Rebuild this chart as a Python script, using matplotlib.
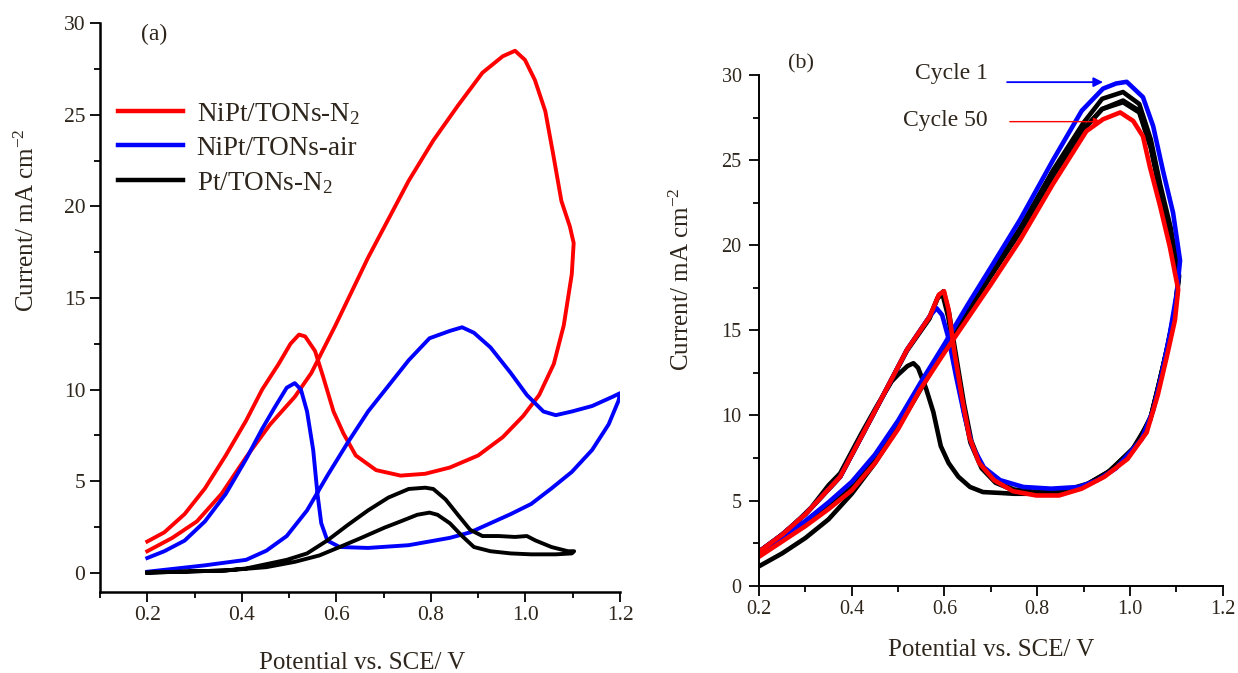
import matplotlib
matplotlib.use("Agg")
import matplotlib.pyplot as plt
from matplotlib.ticker import MultipleLocator, FormatStrFormatter

plt.rcParams['font.family'] = ['Liberation Serif', 'DejaVu Serif']
plt.rcParams['mathtext.fontset'] = 'custom'
plt.rcParams['mathtext.rm'] = 'Liberation Serif'
plt.rcParams['mathtext.it'] = 'Liberation Serif:italic'

TXT = '#2e261c'

# ---------------- Panel (a) data ----------------
a_red_x = [0.2, 0.253, 0.305, 0.357, 0.409, 0.46, 0.512, 0.547, 0.598, 0.667, 0.753, 0.805, 0.857,
           0.909, 0.952, 0.978, 0.999, 1.02, 1.042, 1.059, 1.076, 1.094, 1.102,
           1.098, 1.081, 1.06, 1.029, 0.995, 0.952, 0.9, 0.84, 0.788, 0.736, 0.684, 0.641, 0.615,
           0.594, 0.572, 0.555, 0.534, 0.521, 0.503, 0.478, 0.443, 0.409, 0.366, 0.322, 0.279,
           0.236, 0.2]
a_red_y = [1.17, 1.9, 2.8, 4.3, 6.3, 8.1, 9.6, 10.9, 13.5, 17.2, 21.4, 23.6, 25.5,
           27.3, 28.2, 28.5, 28.0, 26.9, 25.2, 22.8, 20.3, 18.9, 18.0,
           16.3, 13.5, 11.4, 9.7, 8.55, 7.4, 6.4, 5.74, 5.4, 5.3, 5.6, 6.4, 7.6,
           8.8, 10.7, 12.1, 12.9, 13.0, 12.5, 11.4, 10.0, 8.3, 6.4, 4.6, 3.2,
           2.2, 1.7]

a_blue_x = [0.2, 0.322, 0.409, 0.452, 0.495, 0.538, 0.581, 0.624, 0.667, 0.71, 0.753, 0.797, 0.84,
            0.866, 0.891, 0.926, 0.969, 1.003, 1.038, 1.064, 1.098, 1.141, 1.184, 1.2,
            1.197, 1.176, 1.141, 1.098, 1.055, 1.012, 0.969, 0.926, 0.883, 0.84, 0.753, 0.667,
            0.607, 0.581, 0.568, 0.56, 0.551, 0.538, 0.525, 0.512, 0.495, 0.469, 0.443, 0.409,
            0.366, 0.322, 0.279, 0.236, 0.2]
a_blue_y = [0.05, 0.4, 0.7, 1.2, 2.0, 3.4, 5.3, 7.1, 8.8, 10.2, 11.6, 12.8, 13.2,
            13.4, 13.1, 12.3, 10.9, 9.7, 8.8, 8.6, 8.8, 9.1, 9.6, 9.8,
            9.4, 8.1, 6.7, 5.5, 4.6, 3.75, 3.2, 2.7, 2.2, 1.9, 1.5, 1.35,
            1.4, 1.75, 2.7, 4.3, 6.7, 8.8, 10.0, 10.35, 10.1, 9.0, 7.85, 6.2,
            4.3, 2.8, 1.75, 1.17, 0.8]

a_black_x = [0.2, 0.366, 0.409, 0.495, 0.538, 0.581, 0.624, 0.667, 0.71, 0.753, 0.788, 0.805, 0.831,
             0.857, 0.883, 0.909, 0.943, 0.978, 1.003, 1.021, 1.055, 1.09, 1.103,
             1.098, 1.064, 1.012, 0.969, 0.926, 0.891, 0.866, 0.84, 0.814, 0.797, 0.771, 0.736,
             0.702, 0.65, 0.607, 0.564, 0.512, 0.452, 0.366, 0.2]
a_black_y = [0.0, 0.12, 0.23, 0.7, 1.05, 1.76, 2.6, 3.4, 4.1, 4.57, 4.64, 4.57, 4.0,
             3.16, 2.34, 2.0, 2.0, 1.95, 2.0, 1.76, 1.4, 1.17, 1.17,
             1.05, 1.0, 1.0, 1.05, 1.17, 1.4, 2.0, 2.7, 3.16, 3.28, 3.16, 2.8,
             2.46, 1.87, 1.4, 0.94, 0.59, 0.3, 0.12, 0.0]

a_labels = ['NiPt/TONs-N$_2$', 'NiPt/TONs-air', 'Pt/TONs-N$_2$']

# ---------------- Panel (b) data ----------------
b_blue_x = [0.2, 0.25, 0.3, 0.35, 0.4, 0.45, 0.5, 0.55, 0.6, 0.65, 0.7, 0.763, 0.834, 0.896,
            0.942, 0.97, 0.993, 1.028, 1.05, 1.071, 1.093, 1.108,
            1.101, 1.086, 1.069, 1.05, 1.025, 0.97, 0.93, 0.89, 0.83, 0.77, 0.72, 0.685,
            0.66, 0.643, 0.625, 0.609, 0.595, 0.583, 0.57, 0.54, 0.519, 0.447, 0.375,
            0.3, 0.25, 0.2]
b_blue_y = [1.9, 2.8, 3.8, 4.9, 6.1, 7.7, 9.7, 12.0, 14.2, 16.5, 18.7, 21.5, 25.0, 27.9,
            29.2, 29.5, 29.6, 28.7, 27.0, 24.4, 21.9, 19.1,
            17.2, 14.8, 12.5, 10.3, 8.6, 6.9, 6.2, 5.8, 5.7, 5.8, 6.2, 6.95,
            8.2, 10.0, 12.3, 14.5, 15.9, 16.3, 15.9, 14.7, 13.85, 10.1, 6.4,
            4.2, 3.0, 2.0]

b_red_x = [0.2, 0.25, 0.3, 0.35, 0.4, 0.45, 0.5, 0.547, 0.6, 0.65, 0.7, 0.763, 0.834, 0.906,
           0.942, 0.979, 1.007, 1.028, 1.043, 1.065, 1.086, 1.104,
           1.097, 1.079, 1.06, 1.036, 0.995, 0.945, 0.896, 0.847, 0.798, 0.748, 0.707, 0.675,
           0.654, 0.638, 0.621, 0.609, 0.599, 0.588, 0.568, 0.519, 0.447, 0.375, 0.3, 0.25, 0.2]
b_red_y = [1.7, 2.6, 3.5, 4.5, 5.6, 7.2, 9.2, 11.5, 13.7, 15.7, 17.7, 20.3, 23.6, 26.7,
           27.4, 27.8, 27.3, 26.4, 24.6, 22.3, 19.9, 17.4,
           15.6, 13.4, 11.2, 9.0, 7.45, 6.4, 5.7, 5.3, 5.3, 5.55, 6.2, 7.2,
           8.7, 11.0, 13.8, 16.2, 17.3, 17.1, 15.8, 13.85, 10.1, 6.4, 4.2, 3.0, 2.0]

b_blk1_x = [0.2, 0.25, 0.3, 0.35, 0.4, 0.45, 0.5, 0.55, 0.6, 0.65, 0.7, 0.763, 0.834, 0.9,
            0.94, 0.985, 1.02, 1.045, 1.065, 1.088, 1.106,
            1.099, 1.082, 1.064, 1.046, 1.015, 0.96, 0.91, 0.86, 0.8, 0.75, 0.71, 0.68,
            0.658, 0.642, 0.625, 0.61, 0.598, 0.587, 0.568, 0.519, 0.447, 0.375, 0.3, 0.25, 0.2]
b_blk1_y = [1.8, 2.75, 3.7, 4.75, 5.9, 7.5, 9.5, 11.8, 14.0, 16.3, 18.4, 21.0, 24.4, 27.2,
            28.6, 29.0, 28.3, 26.2, 23.6, 21.0, 18.2,
            16.5, 14.2, 12.0, 10.0, 8.3, 6.8, 6.0, 5.6, 5.5, 5.65, 6.1, 7.0,
            8.5, 10.7, 13.5, 16.0, 17.3, 17.0, 15.8, 13.85, 10.1, 6.4, 4.2, 3.0, 2.0]

b_blk2_x = [0.2, 0.25, 0.3, 0.35, 0.4, 0.45, 0.5, 0.55, 0.6, 0.65, 0.7, 0.763, 0.834, 0.9,
            0.94, 0.985, 1.02, 1.045, 1.065, 1.088, 1.104,
            1.098, 1.081, 1.062, 1.044, 1.01, 0.955, 0.905, 0.855, 0.8, 0.75, 0.71, 0.68,
            0.656, 0.64, 0.623, 0.608, 0.596, 0.585, 0.568, 0.519, 0.447, 0.375, 0.3, 0.25, 0.2]
b_blk2_y = [1.75, 2.7, 3.65, 4.7, 5.8, 7.4, 9.4, 11.7, 13.9, 16.1, 18.2, 20.8, 24.1, 26.8,
            28.0, 28.5, 27.9, 25.8, 23.2, 20.6, 18.0,
            16.3, 14.0, 11.8, 9.8, 8.1, 6.7, 5.9, 5.55, 5.45, 5.6, 6.05, 6.9,
            8.4, 10.5, 13.3, 15.8, 17.1, 16.9, 15.7, 13.8, 10.1, 6.4, 4.2, 3.0, 2.0]

b_blk3_x = [0.2, 0.25, 0.3, 0.35, 0.4, 0.45, 0.5, 0.55, 0.6, 0.65, 0.7, 0.763, 0.834, 0.9,
            0.94, 0.985, 1.02, 1.045, 1.065, 1.088, 1.104,
            1.097, 1.08, 1.061, 1.043, 1.005, 0.95, 0.9, 0.85, 0.8, 0.75, 0.72, 0.683,
            0.655, 0.63, 0.609, 0.592, 0.576, 0.56, 0.543, 0.533, 0.52, 0.5, 0.486, 0.453,
            0.42, 0.375, 0.35, 0.313, 0.272, 0.231, 0.2]
b_blk3_y = [1.14, 1.9, 2.8, 3.9, 5.4, 7.2, 9.3, 11.6, 13.9, 16.1, 18.2, 20.8, 24.1, 26.8,
            28.0, 28.4, 27.8, 25.7, 23.1, 20.5, 17.9,
            16.2, 13.9, 11.7, 9.7, 8.0, 6.6, 5.85, 5.5, 5.4, 5.4, 5.45, 5.5,
            5.8, 6.4, 7.2, 8.2, 10.2, 11.6, 12.8, 13.07, 12.9, 12.4, 12.0, 10.5,
            8.9, 6.6, 5.9, 4.6, 3.5, 2.6, 2.0]

b_series = [(b_blk3_x, b_blk3_y, 'black'), (b_blk2_x, b_blk2_y, 'black'),
            (b_blk1_x, b_blk1_y, 'black'), (b_blue_x, b_blue_y, '#0000ff'),
            (b_red_x, b_red_y, '#ff0000')]

# ---------------- Figure ----------------
W, H = 1238, 673
fig = plt.figure(figsize=(W / 100, H / 100), dpi=100)

axa = fig.add_axes([100 / W, 1 - 591.7 / H, 520 / W, (591.7 - 23.3) / H])
axa.plot(a_red_x, a_red_y, color='#ff0000', lw=2.8, label=a_labels[0], solid_joinstyle='round')
axa.plot(a_blue_x, a_blue_y, color='#0000ff', lw=2.8, label=a_labels[1], solid_joinstyle='round')
axa.plot(a_black_x, a_black_y, color='black', lw=2.8, label=a_labels[2], solid_joinstyle='round')
axa.set_xlim(0.1, 1.2)
axa.set_ylim(-1.04, 30)

axb = fig.add_axes([759 / W, 1 - 585.7 / H, 463.7 / W, (585.7 - 75) / H])
for xs, ys, c in b_series:
    axb.plot(xs, ys, color=c, lw=3.3, solid_joinstyle='round')
axb.set_xlim(0.2, 1.2)
axb.set_ylim(0, 30)

for ax, fs, sw in [(axa, 15.5, 1.8), (axb, 14.5, 1.4)]:
    for s in ['top', 'right']:
        ax.spines[s].set_visible(False)
    for s in ['left', 'bottom']:
        ax.spines[s].set_linewidth(sw)
    ax.xaxis.set_major_locator(MultipleLocator(0.2))
    ax.xaxis.set_minor_locator(MultipleLocator(0.1))
    ax.xaxis.set_major_formatter(FormatStrFormatter('%.1f'))
    ax.yaxis.set_major_locator(MultipleLocator(5))
    ax.yaxis.set_minor_locator(MultipleLocator(2.5))
    ax.tick_params(which='major', direction='out', length=7.5, width=1.3,
                   labelsize=fs, labelcolor=TXT)
    ax.tick_params(which='minor', direction='out', length=4, width=1.3)
    ax.set_xlabel('Potential vs. SCE/ V', fontsize=18, color=TXT)
    ax.set_ylabel('Current/ mA cm$^{-2}$', fontsize=18, color=TXT)
    ax.xaxis.label.set_va('center')
    ax.yaxis.label.set_va('center')

axa.tick_params(axis='y', which='major', pad=3)
axa.tick_params(axis='x', which='major', pad=3)
axb.tick_params(axis='y', which='major', pad=5)
axb.tick_params(axis='x', which='major', pad=3)

axa.xaxis.set_label_coords(0.504, -0.125)
axa.yaxis.set_label_coords(-0.140, 0.654)
axb.xaxis.set_label_coords(0.50, -0.126)
axb.yaxis.set_label_coords(-0.166, 0.60)

axa.legend(loc='upper left', bbox_to_anchor=(118 / W, 1 - 101 / H),
           bbox_transform=fig.transFigure, frameon=False, fontsize=19.5,
           handlelength=2.4, handletextpad=0.5, labelspacing=0.33,
           borderpad=0, borderaxespad=0, labelcolor=TXT)
for ln in axa.get_legend().get_lines():
    ln.set_linewidth(3.2)

axa.text(154 / W, 1 - 34 / H, '(a)', transform=fig.transFigure, fontsize=17,
         color=TXT, ha='center', va='center')
axb.text(801 / W, 1 - 64 / H, '(b)', transform=fig.transFigure, fontsize=16,
         color=TXT, ha='center', va='center')

axb.text(0.694, 30.06, 'Cycle 1', fontsize=17, color=TXT, ha='right', va='center')
axb.text(0.694, 27.3, 'Cycle 50', fontsize=17, color=TXT, ha='right', va='center')
axb.annotate('', xy=(0.942, 29.58), xytext=(0.735, 29.58),
             arrowprops=dict(arrowstyle='-|>', color='#0000ff', lw=1.3,
                             mutation_scale=14, shrinkA=0, shrinkB=0), annotation_clip=False)
axb.annotate('', xy=(0.939, 27.26), xytext=(0.741, 27.26),
             arrowprops=dict(arrowstyle='-|>', color='#ff0000', lw=1.0,
                             mutation_scale=12, shrinkA=0, shrinkB=0), annotation_clip=False)

fig.savefig('out.png', dpi=100)
